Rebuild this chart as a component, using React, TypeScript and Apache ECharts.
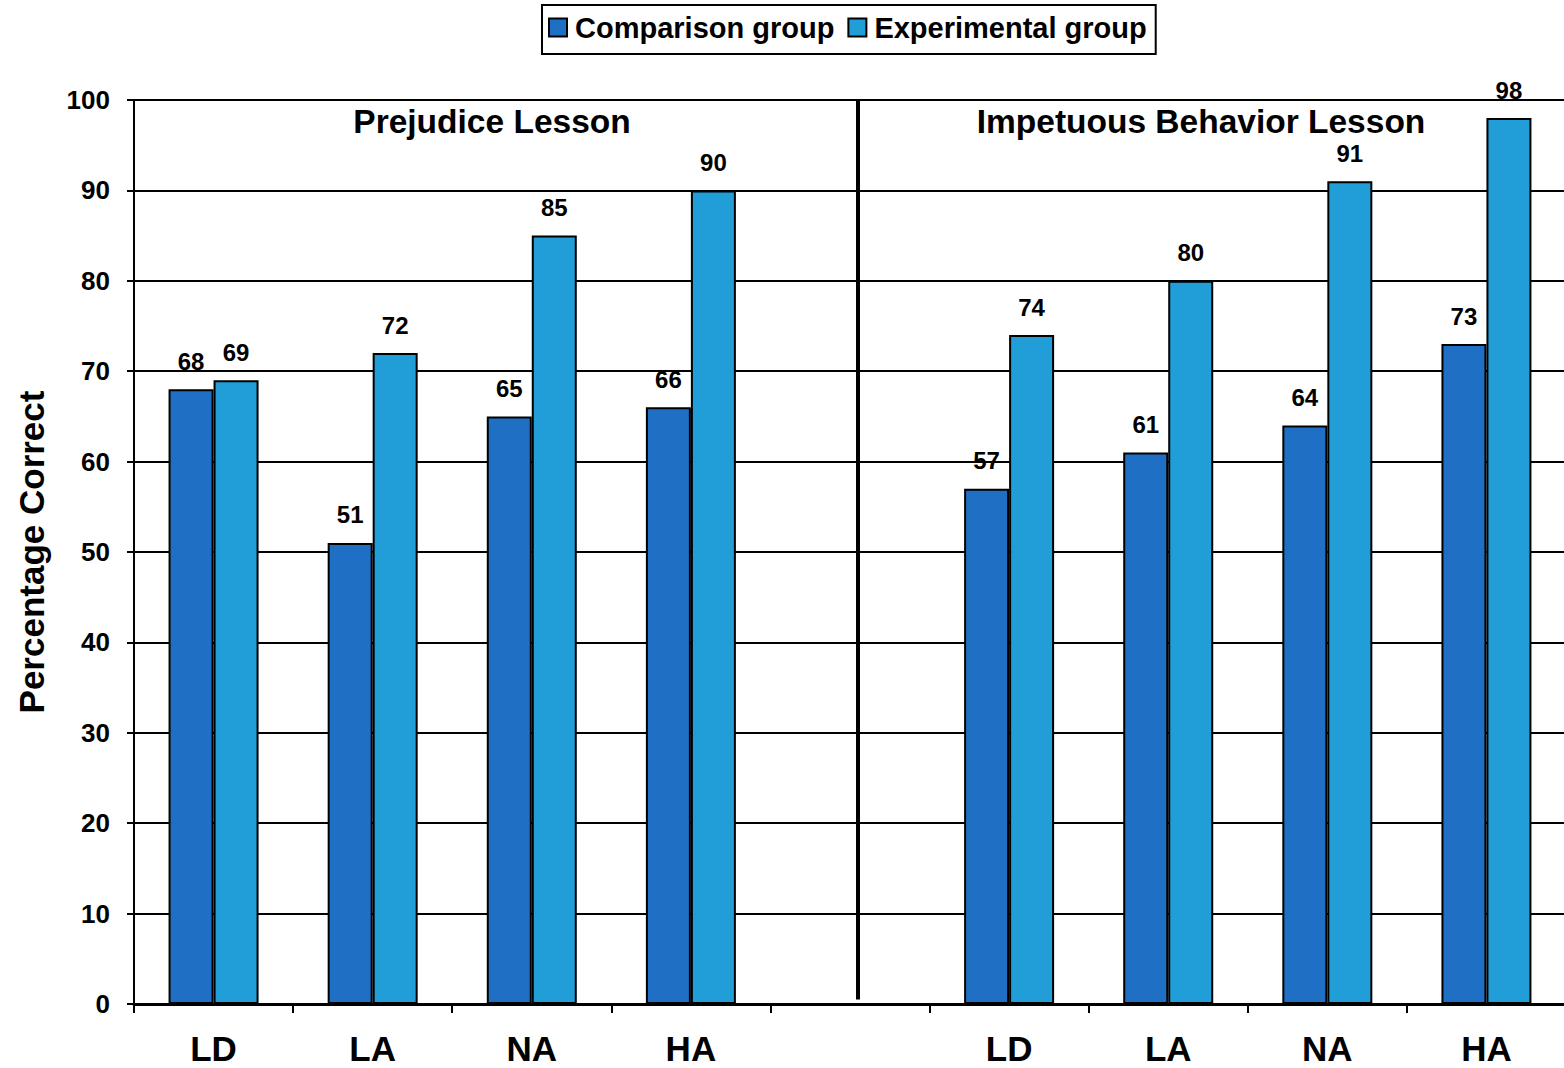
import React, { useEffect, useRef } from "react";
import * as echarts from "echarts";

// Ability groups shown under each lesson
const groups = ["LD", "LA", "NA", "HA"];

// Percentage correct, Prejudice Lesson
const prejudiceComparison = [68, 51, 65, 66];
const prejudiceExperimental = [69, 72, 85, 90];

// Percentage correct, Impetuous Behavior Lesson
const impetuousComparison = [57, 61, 64, 73];
const impetuousExperimental = [74, 80, 91, 98];

const lessonTitles = ["Prejudice Lesson", "Impetuous Behavior Lesson"];
const seriesNames = ["Comparison group", "Experimental group"];
const yTicks = { min: 0, max: 100, interval: 10 };

const FONT = "'Liberation Sans', Arial, Helvetica, sans-serif";
const DARK_BLUE = "#1F70C5";
const LIGHT_BLUE = "#219ED8";

// One empty slot separates the two lessons on the category axis
const categories = [...groups, "", ...groups];
const comparisonData = [...prejudiceComparison, null, ...impetuousComparison];
const experimentalData = [...prejudiceExperimental, null, ...impetuousExperimental];

export default function App() {
  const ref = useRef<HTMLDivElement>(null);

  useEffect(() => {
    if (!ref.current) return;
    const chart = echarts.init(ref.current, undefined, { renderer: "svg" });

    const barLabel = {
      show: true,
      position: "top",
      distance: 16,
      color: "#000",
      fontSize: 24,
      fontWeight: "bold",
      fontFamily: FONT,
    };

    const titleStyle = {
      fontSize: 33.5,
      fontWeight: "bold",
      fontFamily: FONT,
      fill: "#000",
      align: "center",
      verticalAlign: "middle",
    };

    chart.setOption({
      animation: false,
      backgroundColor: "#fff",
      textStyle: { fontFamily: FONT },
      grid: {
        left: 134,
        top: 100,
        width: 1432,
        height: 904,
        containLabel: false,
        outerBoundsMode: "none",
      },
      legend: {
        data: seriesNames,
        left: 542,
        top: 5,
        padding: [8, 9, 12, 6],
        itemGap: 13,
        itemWidth: 18,
        itemHeight: 18,
        borderColor: "#000",
        borderWidth: 2,
        icon: "rect",
        textStyle: {
          fontSize: 29,
          fontWeight: "bold",
          color: "#000",
          fontFamily: FONT,
          padding: [0, 0, 0, 3],
        },
      },
      xAxis: [
        {
          type: "category",
          data: categories,
          axisLine: { lineStyle: { color: "#000", width: 3 } },
          axisTick: { show: true, alignWithLabel: false, length: 9, lineStyle: { color: "#000", width: 2 } },
          axisLabel: {
            color: "#000",
            fontSize: 35,
            fontWeight: "bold",
            fontFamily: FONT,
            margin: 27,
            interval: 0,
          },
          splitLine: { show: false },
        },
        {
          // hidden helper axis used to place the lesson divider
          type: "value",
          min: 0,
          max: 9,
          show: false,
        },
      ],
      yAxis: {
        type: "value",
        min: yTicks.min,
        max: yTicks.max,
        interval: yTicks.interval,
        name: "Percentage Correct",
        nameLocation: "middle",
        nameRotate: 90,
        nameGap: 85,
        nameTextStyle: { color: "#000", fontSize: 35, fontWeight: "bold", fontFamily: FONT },
        axisLine: { show: true, lineStyle: { color: "#000", width: 2 } },
        axisTick: { show: true, length: 7, lineStyle: { color: "#000", width: 2 } },
        axisLabel: { color: "#000", fontSize: 26, fontWeight: "bold", fontFamily: FONT, margin: 24 },
        splitLine: { show: true, lineStyle: { color: "#000", width: 2 } },
      },
      series: [
        {
          name: seriesNames[0],
          type: "bar",
          data: comparisonData,
          barWidth: 45,
          barGap: "0%",
          itemStyle: { color: DARK_BLUE, borderColor: "#000", borderWidth: 2 },
          label: barLabel,
        },
        {
          name: seriesNames[1],
          type: "bar",
          data: experimentalData,
          barWidth: 45,
          barGap: "0%",
          itemStyle: { color: LIGHT_BLUE, borderColor: "#000", borderWidth: 2 },
          label: barLabel,
        },
        {
          type: "line",
          xAxisIndex: 1,
          data: [],
          silent: true,
          markLine: {
            silent: true,
            symbol: "none",
            label: { show: false },
            lineStyle: { color: "#000", width: 4, type: "solid" },
            data: [[{ coord: [4.55, 100] }, { coord: [4.55, 0.5] }]],
          },
        },
      ],
      graphic: [
        { type: "text", x: 492, y: 121, style: { text: lessonTitles[0], ...titleStyle } },
        { type: "text", x: 1201, y: 121, style: { text: lessonTitles[1], ...titleStyle } },
      ],
    });

    return () => chart.dispose();
  }, []);

  return (
    <div
      ref={ref}
      style={{ position: "absolute", left: 0, top: 0, width: 1564, height: 1068, background: "#fff" }}
    />
  );
}
